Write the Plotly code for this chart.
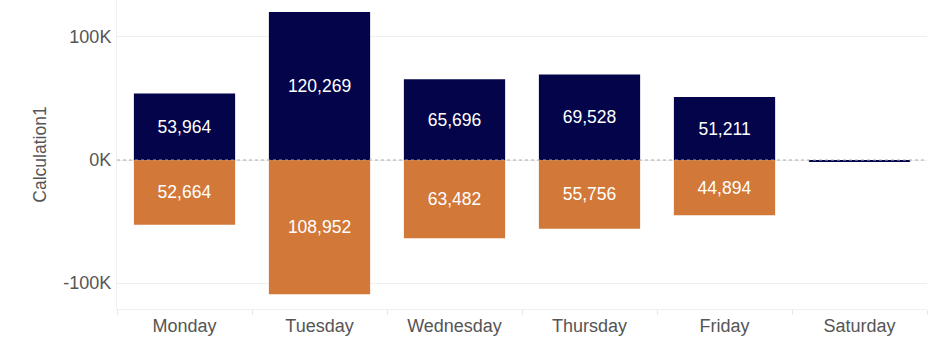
import plotly.graph_objects as go

days = ["Monday", "Tuesday", "Wednesday", "Thursday", "Friday", "Saturday"]
positive_vals = [53964, 120269, 65696, 69528, 51211, -1000]
negative_vals = [-52664, -108952, -63482, -55756, -44894, 0]
positive_labels = ["53,964", "120,269", "65,696", "69,528", "51,211", ""]
negative_labels = ["52,664", "108,952", "63,482", "55,756", "44,894", ""]
y_tickvals = [-100000, 0, 100000]
y_ticktext = ["-100K", "0K", "100K"]

fig = go.Figure()
fig.add_trace(go.Bar(x=days, y=positive_vals, text=positive_labels, marker_color="#03044a",
                     marker_line_width=0, textposition="inside", insidetextanchor="middle",
                     textfont=dict(color="white", size=17.5), width=0.75, hoverinfo="skip"))
fig.add_trace(go.Bar(x=days, y=negative_vals, text=negative_labels, marker_color="#d27838",
                     marker_line_width=0, textposition="inside", insidetextanchor="middle",
                     textfont=dict(color="white", size=17.5), width=0.75, hoverinfo="skip"))

fig.add_shape(type="line", xref="paper", x0=0, x1=1, yref="y", y0=0, y1=0,
              line=dict(color="#aaaaaa", width=1, dash="dot"), layer="above")

fig.update_layout(
    barmode="relative",
    width=936, height=351,
    margin=dict(l=117, r=9, t=0, b=42),
    plot_bgcolor="white", paper_bgcolor="white",
    showlegend=False,
    font=dict(family="Liberation Sans, Arial, sans-serif", size=18, color="#555555"),
    uniformtext=dict(mode="show", minsize=10),
)
fig.update_yaxes(range=[-121000, 130000], tickvals=y_tickvals, ticktext=y_ticktext,
                 showgrid=True, gridcolor="#efefef", zeroline=False,
                 showline=True, linecolor="#f0f0f0", ticks="outside", ticklen=1, tickcolor="white",
                 title=dict(text="Calculation1", standoff=12, font=dict(size=17.5, color="#555555")),
                 tickfont=dict(size=18, color="#555555"))
fig.update_xaxes(showgrid=False, showline=True, linecolor="#f0f0f0",
                 ticks="outside", tickson="boundaries", ticklen=5, tickcolor="#e8e8e8",
                 tickfont=dict(size=18, color="#555555"))

fig.write_html("out.html")
